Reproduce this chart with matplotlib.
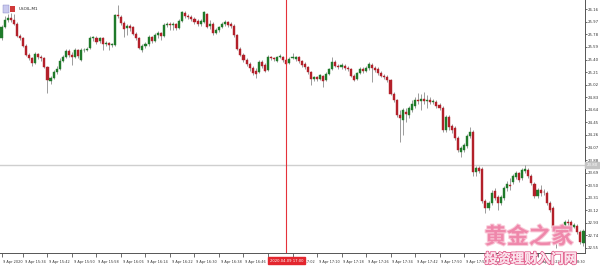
import matplotlib
matplotlib.use("Agg")
import matplotlib.pyplot as plt
import matplotlib.patheffects as pe
import matplotlib.transforms as mtransforms
from matplotlib.patches import Rectangle
import numpy as np
import pandas as pd

symbol = "USOIL,M1"
start_time = "2020-04-09 15:27"

opens = [25.73, 25.89, 26.00, 26.03, 26.00, 25.94, 25.76, 25.73, 25.61, 25.47,
         25.42, 25.35, 25.48, 25.44, 25.42, 25.29, 25.08, 25.12, 25.21, 25.26,
         25.38, 25.44, 25.53, 25.47, 25.44, 25.54, 25.39, 25.54, 25.54, 25.58,
         25.73, 25.73, 25.68, 25.73, 25.64, 25.65, 25.62, 25.62, 26.07, 26.04,
         25.95, 25.88, 25.91, 25.89, 25.79, 25.73, 25.54, 25.61, 25.64, 25.74,
         25.68, 25.77, 25.80, 25.76, 25.92, 25.94, 25.92, 25.94, 25.88, 25.98,
         26.10, 26.06, 26.04, 26.01, 25.98, 25.94, 25.97, 26.09, 25.91, 25.94,
         25.80, 25.85, 25.89, 25.94, 25.97, 25.94, 25.91, 25.77, 25.56, 25.47,
         25.39, 25.33, 25.27, 25.23, 25.21, 25.36, 25.32, 25.24, 25.44, 25.42,
         25.38, 25.44, 25.44, 25.39, 25.35, 25.42, 25.41, 25.44, 25.38, 25.33,
         25.29, 25.21, 25.11, 25.14, 25.11, 25.15, 25.09, 25.18, 25.26, 25.36,
         25.30, 25.29, 25.30, 25.27, 25.26, 25.15, 25.11, 25.20, 25.26, 25.23,
         25.27, 25.32, 25.27, 25.26, 25.20, 25.15, 25.14, 25.09, 24.88, 24.79,
         24.56, 24.49, 24.61, 24.56, 24.64, 24.70, 24.79, 24.77, 24.80, 24.77,
         24.79, 24.76, 24.76, 24.71, 24.67, 24.33, 24.53, 24.39, 24.36, 24.21,
         24.00, 24.03, 24.09, 24.24, 24.30, 23.70, 23.76, 23.74, 23.26, 23.15,
         23.23, 23.41, 23.32, 23.23, 23.30, 23.46, 23.50, 23.55, 23.62, 23.68,
         23.61, 23.71, 23.73, 23.64, 23.52, 23.34, 23.43, 23.40, 23.38, 23.23,
         23.15, 22.85, 22.73, 22.79, 22.82, 22.94, 22.94, 22.87, 22.88, 22.79,
         22.63]
highs = [25.92, 26.06, 26.09, 26.10, 26.09, 25.97, 25.79, 25.74, 25.64, 25.50,
         25.44, 25.51, 25.50, 25.47, 25.44, 25.30, 25.15, 25.24, 25.30, 25.42,
         25.47, 25.56, 25.56, 25.51, 25.58, 25.56, 25.58, 25.58, 25.59, 25.76,
         25.76, 25.76, 25.74, 25.74, 25.68, 25.67, 25.65, 26.09, 26.23, 26.07,
         25.98, 25.94, 25.94, 25.91, 25.82, 25.74, 25.64, 25.67, 25.77, 25.76,
         25.80, 25.83, 25.82, 25.95, 25.97, 25.97, 25.97, 25.95, 26.01, 26.13,
         26.13, 26.09, 26.07, 26.04, 26.01, 26.01, 26.13, 26.10, 26.00, 25.97,
         25.88, 25.91, 25.97, 26.00, 25.98, 25.97, 25.94, 25.79, 25.59, 25.50,
         25.42, 25.36, 25.30, 25.27, 25.39, 25.39, 25.35, 25.47, 25.45, 25.44,
         25.45, 25.48, 25.45, 25.41, 25.44, 25.50, 25.45, 25.45, 25.39, 25.36,
         25.30, 25.23, 25.15, 25.15, 25.18, 25.17, 25.21, 25.27, 25.44, 25.39,
         25.33, 25.35, 25.33, 25.30, 25.27, 25.18, 25.21, 25.29, 25.29, 25.30,
         25.36, 25.35, 25.30, 25.29, 25.23, 25.18, 25.17, 25.11, 24.91, 24.80,
         24.64, 24.67, 24.67, 24.70, 24.79, 24.83, 24.89, 24.88, 24.91, 24.86,
         24.83, 24.80, 24.79, 24.74, 24.70, 24.56, 24.56, 24.42, 24.39, 24.24,
         24.09, 24.14, 24.27, 24.38, 24.33, 23.79, 23.79, 23.77, 23.29, 23.26,
         23.43, 23.46, 23.35, 23.35, 23.49, 23.56, 23.61, 23.67, 23.71, 23.70,
         23.76, 23.80, 23.76, 23.67, 23.55, 23.46, 23.50, 23.44, 23.41, 23.26,
         23.18, 22.88, 22.84, 22.88, 22.97, 22.99, 22.97, 22.93, 22.91, 22.82,
         22.84]
lows = [25.70, 25.88, 25.97, 25.97, 25.92, 25.74, 25.70, 25.59, 25.45, 25.39,
        25.30, 25.33, 25.41, 25.38, 25.27, 24.89, 25.03, 25.11, 25.18, 25.24,
        25.36, 25.42, 25.44, 25.32, 25.42, 25.42, 25.38, 25.51, 25.53, 25.56,
        25.68, 25.64, 25.65, 25.54, 25.61, 25.54, 25.59, 25.61, 26.03, 25.92,
        25.74, 25.77, 25.83, 25.77, 25.70, 25.56, 25.51, 25.58, 25.61, 25.65,
        25.67, 25.73, 25.70, 25.74, 25.89, 25.85, 25.85, 25.85, 25.86, 25.97,
        26.03, 26.01, 25.98, 25.94, 25.91, 25.91, 25.95, 25.88, 25.86, 25.77,
        25.79, 25.82, 25.88, 25.91, 25.89, 25.88, 25.74, 25.54, 25.45, 25.36,
        25.30, 25.23, 25.17, 25.12, 25.20, 25.27, 25.21, 25.23, 25.39, 25.38,
        25.36, 25.42, 25.36, 25.30, 25.33, 25.41, 25.38, 25.35, 25.29, 25.26,
        25.18, 25.02, 25.08, 25.08, 25.09, 24.99, 25.08, 25.17, 25.24, 25.29,
        25.26, 25.26, 25.24, 25.23, 25.14, 25.08, 25.09, 25.18, 25.20, 25.21,
        25.24, 25.06, 25.21, 25.17, 25.14, 25.11, 25.06, 24.86, 24.76, 24.53,
        24.15, 24.26, 24.46, 24.52, 24.61, 24.67, 24.73, 24.64, 24.73, 24.67,
        24.73, 24.73, 24.67, 24.64, 24.30, 24.30, 24.33, 24.29, 24.18, 24.00,
        23.93, 24.00, 24.06, 24.21, 23.64, 23.64, 23.68, 23.23, 23.08, 23.12,
        23.20, 23.27, 23.12, 23.20, 23.27, 23.41, 23.43, 23.52, 23.59, 23.55,
        23.58, 23.68, 23.61, 23.50, 23.30, 23.30, 23.34, 23.35, 23.20, 23.09,
        22.82, 22.55, 22.67, 22.76, 22.79, 22.88, 22.84, 22.85, 22.76, 22.61,
        22.58]
closes = [25.89, 26.00, 26.03, 26.00, 25.94, 25.76, 25.73, 25.61, 25.47, 25.42,
          25.35, 25.48, 25.44, 25.42, 25.29, 25.09, 25.12, 25.21, 25.26, 25.38,
          25.44, 25.53, 25.47, 25.44, 25.54, 25.45, 25.54, 25.55, 25.56, 25.73,
          25.74, 25.67, 25.73, 25.64, 25.65, 25.62, 25.63, 26.07, 26.06, 25.95,
          25.86, 25.91, 25.88, 25.79, 25.73, 25.58, 25.61, 25.64, 25.74, 25.68,
          25.77, 25.80, 25.76, 25.92, 25.94, 25.92, 25.94, 25.88, 25.98, 26.12,
          26.06, 26.04, 26.01, 25.97, 25.94, 25.98, 26.12, 25.89, 25.94, 25.80,
          25.85, 25.89, 25.94, 25.97, 25.92, 25.91, 25.77, 25.56, 25.47, 25.39,
          25.33, 25.27, 25.20, 25.18, 25.36, 25.30, 25.23, 25.44, 25.42, 25.41,
          25.44, 25.45, 25.39, 25.33, 25.41, 25.44, 25.44, 25.38, 25.32, 25.29,
          25.21, 25.11, 25.14, 25.11, 25.17, 25.08, 25.18, 25.26, 25.36, 25.30,
          25.29, 25.32, 25.27, 25.26, 25.15, 25.09, 25.20, 25.26, 25.23, 25.27,
          25.33, 25.27, 25.24, 25.20, 25.15, 25.14, 25.09, 24.88, 24.79, 24.56,
          24.52, 24.64, 24.58, 24.67, 24.73, 24.79, 24.77, 24.80, 24.77, 24.79,
          24.76, 24.77, 24.70, 24.67, 24.33, 24.53, 24.38, 24.33, 24.21, 24.03,
          24.06, 24.11, 24.24, 24.30, 23.70, 23.76, 23.71, 23.26, 23.15, 23.23,
          23.38, 23.30, 23.23, 23.32, 23.46, 23.52, 23.49, 23.64, 23.68, 23.58,
          23.73, 23.74, 23.64, 23.53, 23.34, 23.43, 23.38, 23.39, 23.23, 23.12,
          22.85, 22.70, 22.79, 22.84, 22.94, 22.93, 22.87, 22.90, 22.79, 22.64,
          22.81]

price_ticks = [26.16, 25.97, 25.78, 25.59, 25.40, 25.21, 25.02, 24.83, 24.64, 24.45,
               24.26, 24.07, 23.88, 23.69, 23.50, 23.31, 23.12, 22.93, 22.74, 22.55]
first_label = "9 Apr 2020"
time_tick_labels = ["15:34", "15:42", "15:50", "15:58", "16:06", "16:14", "16:22",
                    "16:30", "16:38", "16:46", "16:54", "17:02", "17:10", "17:18",
                    "17:26", "17:34", "17:42", "17:50", "17:58", "18:06", "18:14",
                    "18:22", "18:30"]
marker_price = 23.80
marker_time = "17:00"

times = pd.date_range(start_time, periods=len(closes), freq="min")
hhmm = [t.strftime("%H:%M") for t in times]
x = np.arange(len(closes))
o = np.array(opens); h = np.array(highs); l = np.array(lows); c = np.array(closes)

fig = plt.figure(figsize=(6, 2.7), dpi=100)
ax = fig.add_axes([0, 1 - 253 / 270, 585 / 600, 253 / 270])

up = c >= o
green = "#1f7a2a"
red = "#b3202a"
ax.vlines(x, l, h, color="#8c8c8c", lw=0.6, zorder=2)
body_bottom = np.minimum(o, c)
body_h = np.maximum(np.abs(c - o), 0.006)
ax.bar(x[up], body_h[up], bottom=body_bottom[up], width=0.68, color=green,
       edgecolor=green, lw=0.3, zorder=3)
ax.bar(x[~up], body_h[~up], bottom=body_bottom[~up], width=0.68, color=red,
       edgecolor=red, lw=0.3, zorder=3)

ax.set_xlim(-0.5, len(closes) - 0.5)
ax.set_ylim(22.473, 26.301)

# marker lines
xm = hhmm.index(marker_time)
ax.axhline(marker_price, color="#cfcfcf", lw=1.0, zorder=1)
ax.axvline(xm, color="#e5323a", lw=0.8, zorder=4)

# y axis on right
ax.yaxis.tick_right()
ax.set_yticks(price_ticks)
ax.set_yticklabels([f"{p:.2f}" for p in price_ticks])
ax.tick_params(axis="y", length=1.5, width=0.5, pad=0.8, labelsize=2.8,
               colors="#333333")

# x ticks
tick_pos = [0] + [hhmm.index(s) for s in time_tick_labels]
tick_lab = [first_label] + ["9 Apr " + s for s in time_tick_labels]
ax.set_xticks(tick_pos)
ax.set_xticklabels(tick_lab, ha="left")
ax.tick_params(axis="x", length=3, width=0.5, pad=2, labelsize=2.55,
               colors="#333333")
offset = mtransforms.ScaledTranslation(1.2 / 72, 0, fig.dpi_scale_trans)
for lab in ax.get_xticklabels():
    lab.set_transform(lab.get_transform() + offset)

for s in ["top", "left"]:
    ax.spines[s].set_visible(False)
for s in ["right", "bottom"]:
    ax.spines[s].set_color("#555555")
    ax.spines[s].set_linewidth(0.7)

# crosshair labels
ax.annotate(f"2020.04.09 {marker_time}", xy=(xm, 0), xycoords=("data", "axes fraction"),
            xytext=(0, -4.2), textcoords="offset points", ha="center", va="top",
            fontsize=2.7, color="white", zorder=10, annotation_clip=False,
            bbox=dict(boxstyle="square,pad=0.4", fc="#e3262e", ec="#e3262e"))
ax.annotate(f"{marker_price:.2f}", xy=(1, marker_price), xycoords=("axes fraction", "data"),
            xytext=(1.0, 0), textcoords="offset points", ha="left", va="center",
            fontsize=2.8, color="white", zorder=10, annotation_clip=False,
            bbox=dict(boxstyle="square,pad=0.3", fc="#c4c4c4", ec="#c4c4c4"))

# symbol label with small icon
fig.patches.append(Rectangle((3 / 600, 1 - 13 / 270), 6 / 600, 8 / 270,
                             transform=fig.transFigure, fc="#c9c9ee", ec="#8080c0", lw=0.3))
fig.patches.append(Rectangle((10 / 600, 1 - 12 / 270), 5 / 600, 6 / 270,
                             transform=fig.transFigure, fc="#d03a3a", ec="none"))
fig.text(19 / 600, 1 - 9 / 270, symbol, fontsize=3.0, color="#222222", va="center", ha="left")

# watermark
cjk = ["Noto Sans CJK SC", "DejaVu Sans"]
fig.text(529 / 600, 1 - 237 / 270, "黄金之家", family=cjk, fontsize=16, weight="bold",
         color="#ef86aa", ha="center", va="center", alpha=0.95, zorder=20,
         path_effects=[pe.withStroke(linewidth=1.5, foreground="#f9c9d8")])
fig.text(531 / 600, 1 - 259 / 270, "投资理财入门网", family=cjk, fontsize=9.5, weight="bold",
         color="#fbe3ec", ha="center", va="center", zorder=20,
         path_effects=[pe.withStroke(linewidth=1.4, foreground="#e2628f"), pe.Normal()])

fig.savefig("out.png", dpi=100)
